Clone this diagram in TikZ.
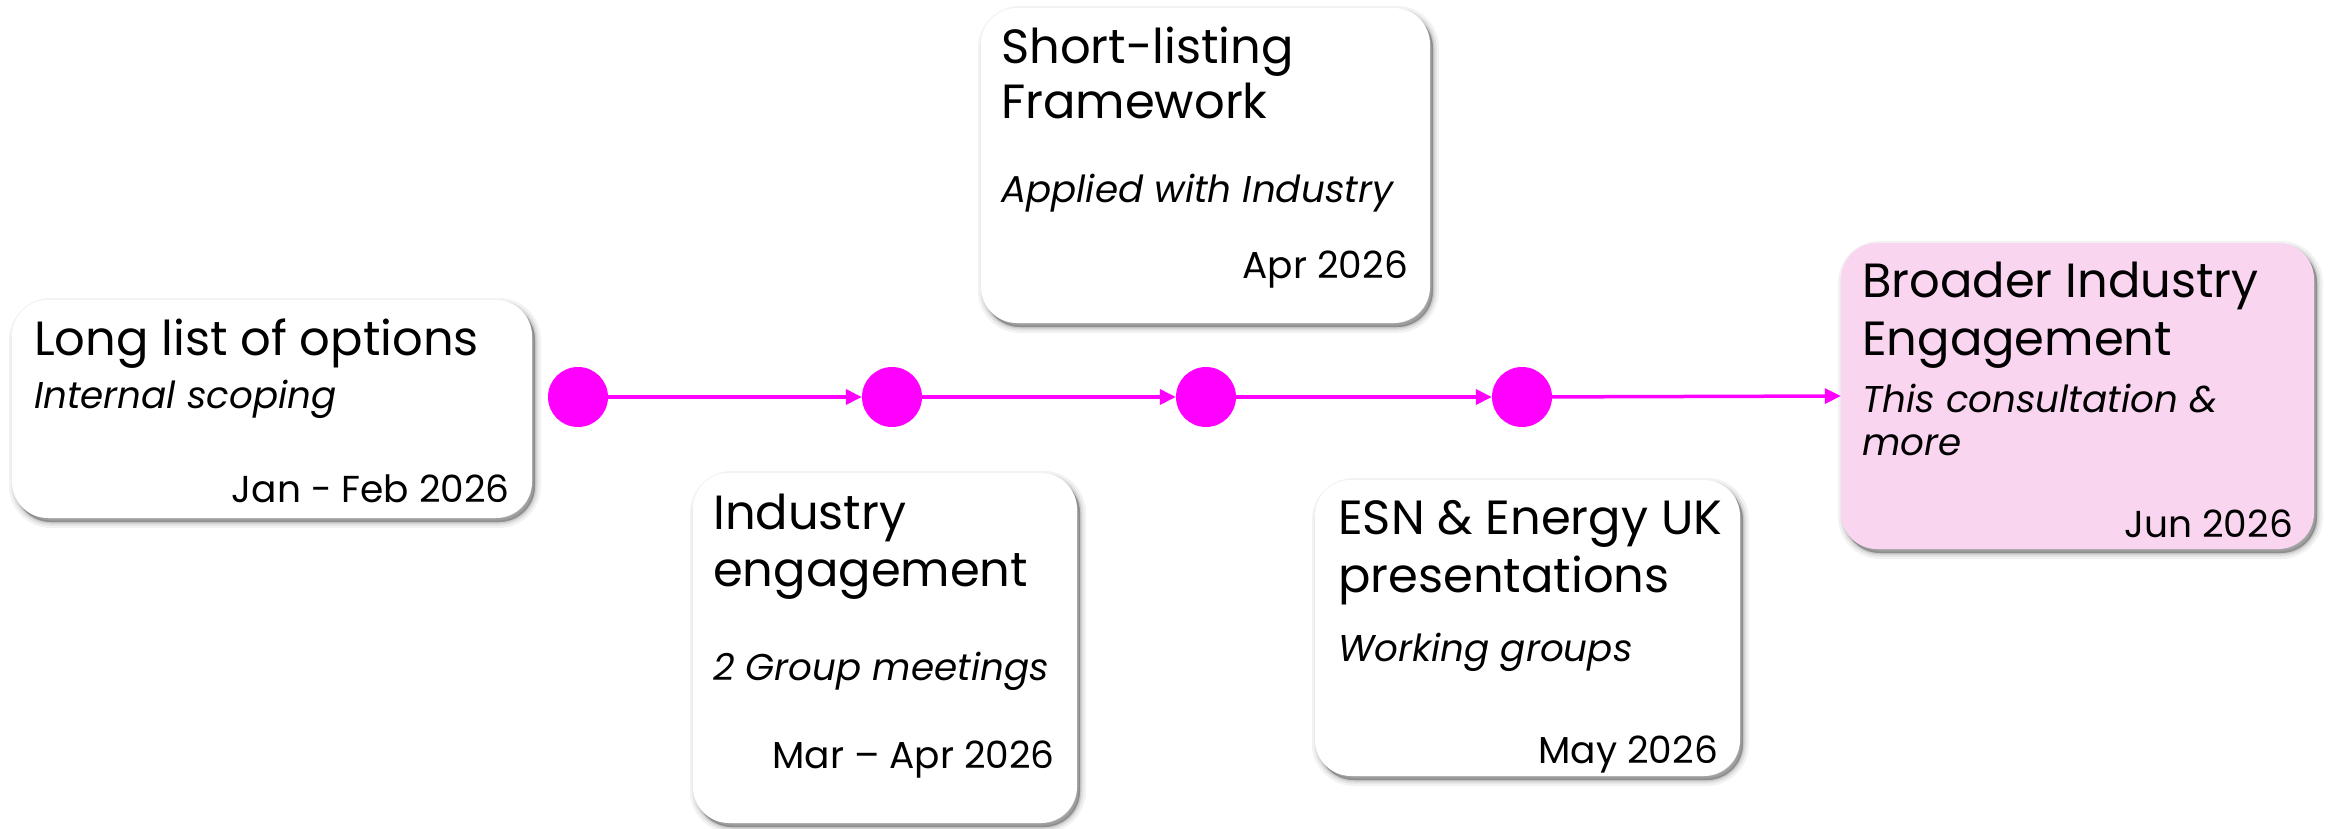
\documentclass[tikz,border=0pt]{standalone}
\usepackage{fontspec}
\setmainfont{Poppins}
\usetikzlibrary{shadows,arrows.meta}
\definecolor{mag}{RGB}{255,0,255}
\definecolor{pinkfill}{RGB}{250,213,240}
\begin{document}
\begin{tikzpicture}[x=1pt,y=-1pt,
  card/.style={draw=none, fill=white, rounded corners=36pt, inner sep=0pt,
    drop shadow={shadow xshift=3pt, shadow yshift=-4pt, opacity=0.05, fill=black, draw=black, line width=12pt},
    drop shadow={shadow xshift=3pt, shadow yshift=-4pt, opacity=0.07, fill=black, draw=black, line width=7pt},
    drop shadow={shadow xshift=3pt, shadow yshift=-4pt, opacity=0.10, fill=black, draw=black, line width=3pt},
    drop shadow={shadow xshift=3pt, shadow yshift=-4pt, opacity=0.12, fill=black, draw=none}},
  ttl/.style={anchor=base west, inner sep=0pt, font=\fontsize{48}{58}\selectfont},
  sub/.style={anchor=base west, inner sep=0pt, font=\fontsize{37.3}{44}\selectfont\itshape},
  dat/.style={anchor=base east, inner sep=0pt, font=\fontsize{37.5}{44}\selectfont},
  dot/.style={circle, fill=mag, draw=none, minimum size=60pt, inner sep=0pt},
  conn/.style={draw=mag, line width=3.5pt, -{Triangle[length=16pt,width=15pt]}}
]
\useasboundingbox (0,0) rectangle (2331,828);
% cards
\node[card, minimum width=520pt, minimum height=218pt] (b1) at (272,409) {};
\node[card, minimum width=449pt, minimum height=315pt] (b2) at (1205.5,165.5) {};
\node[card, minimum width=384pt, minimum height=350pt] (b3) at (885,648) {};
\node[card, minimum width=425pt, minimum height=296pt] (b4) at (1527.5,628) {};
\node[card, fill=pinkfill, minimum width=473pt, minimum height=306pt] (b5) at (2077.5,396) {};
% texts box 1
\node[ttl] (t1a) at (34,355) {Long list of options};
\node[sub] (t1s) at (34,408) {Internal scoping};
\node[dat] (t1d) at (510,502) {Jan - Feb 2026};
% box 2
\node[ttl] (t2a) at (1001,63) {Short-listing};
\node[ttl] (t2b) at (1001,118) {Framework};
\node[sub] (t2s) at (1001,202) {Applied with Industry};
\node[dat] (t2d) at (1408,278) {Apr 2026};
% box 3
\node[ttl] (t3a) at (713,529) {Industry};
\node[ttl] (t3b) at (713,586) {engagement};
\node[sub] (t3s) at (713,680) {2 Group meetings};
\node[dat] (t3d) at (1055,768) {Mar – Apr 2026};
% box 4
\node[ttl] (t4a) at (1338,534) {ESN \& Energy UK};
\node[ttl] (t4b) at (1338,592) {presentations};
\node[sub] (t4s) at (1338,661) {Working groups};
\node[dat] (t4d) at (1718,763) {May 2026};
% box 5
\node[ttl] (t5a) at (1862,297) {Broader Industry};
\node[ttl] (t5b) at (1862,355) {Engagement};
\node[sub] (t5s) at (1862,412) {This consultation \&};
\node[sub] (t5t) at (1862,455) {more};
\node[dat] (t5d) at (2293,537) {Jun 2026};
% timeline
\node[dot] (d1) at (578,397) {};
\node[dot] (d2) at (892,397) {};
\node[dot] (d3) at (1206,397) {};
\node[dot] (d4) at (1522,397) {};
\draw[conn] (d1) -- (d2);
\draw[conn] (d2) -- (d3);
\draw[conn] (d3) -- (d4);
\draw[conn] (d4) -- (b5.west);
\end{tikzpicture}
\end{document}
